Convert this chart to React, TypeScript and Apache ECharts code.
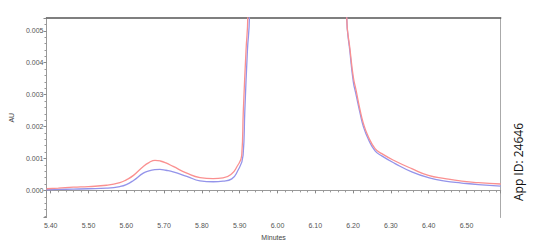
import React, { useEffect, useRef } from "react";
import * as echarts from "echarts";

// Retention time (minutes) and absorbance (AU) for each trace
const redTimes = [5.389, 5.42, 5.46, 5.5, 5.548, 5.583, 5.6, 5.619, 5.645, 5.66, 5.676, 5.69, 5.705, 5.724, 5.76, 5.795, 5.83, 5.856, 5.879, 5.8922, 5.9054, 5.9096, 5.9168, 5.9213, 5.94, 6.05, 6.17, 6.1832, 6.192, 6.2006, 6.2078, 6.2184, 6.2272, 6.2404, 6.2582, 6.2759, 6.3111, 6.3552, 6.3991, 6.4433, 6.4875, 6.5314, 6.5905];
const redValues = [0.00005, 0.00007, 0.0001, 0.00012, 0.00016, 0.00024, 0.00033, 0.00047, 0.00075, 0.00087, 0.00094, 0.00092, 0.00086, 0.00075, 0.00054, 0.0004, 0.00037, 0.00039, 0.00052, 0.00073, 0.0011, 0.0025, 0.0044, 0.0054, 0.03, 0.08, 0.02, 0.0054, 0.0044, 0.00355, 0.00314, 0.00252, 0.0021, 0.00168, 0.00131, 0.00115, 0.00092, 0.00068, 0.00047, 0.00037, 0.00029, 0.00024, 0.0002];

const blueTimes = [5.389, 5.42, 5.46, 5.5, 5.548, 5.583, 5.6, 5.619, 5.645, 5.66, 5.676, 5.689, 5.705, 5.724, 5.76, 5.795, 5.83, 5.856, 5.879, 5.8922, 5.909, 5.9136, 5.9205, 5.9256, 5.94, 6.05, 6.17, 6.1832, 6.192, 6.2006, 6.2078, 6.2184, 6.2272, 6.2404, 6.2582, 6.2759, 6.3111, 6.3552, 6.3991, 6.4433, 6.4875, 6.5314, 6.5905];
const blueValues = [0.00002, 0.00003, 0.00004, 0.00005, 0.00007, 0.00012, 0.00018, 0.00031, 0.00054, 0.00061, 0.00065, 0.00066, 0.00063, 0.00058, 0.00044, 0.0003, 0.00027, 0.00029, 0.00036, 0.00055, 0.0011, 0.0025, 0.0044, 0.0054, 0.03, 0.08, 0.02, 0.0054, 0.0043, 0.0034, 0.003, 0.00242, 0.002, 0.0016, 0.00124, 0.00108, 0.00084, 0.00058, 0.0004, 0.00029, 0.00023, 0.00018, 0.000135];

const xMin = 5.3889;
const xMax = 6.5905;
const yMin = -0.00085;
const yMax = 0.0054;

const xTitle = "Minutes";
const yTitle = "AU";
const sideNote = "App ID: 24646";

export default function App() {
  const ref = useRef<HTMLDivElement>(null);
  useEffect(() => {
    if (!ref.current) return;
    const chart = echarts.init(ref.current, null, { renderer: "svg" });
    const pair = (ts: number[], vs: number[]) => ts.map((t, i) => [t, vs[i]]);
    const labelStyle = { fontFamily: "Liberation Sans, Arial", fontSize: 7, color: "#555" };
    chart.setOption({
      animation: false,
      backgroundColor: "#fff",
      grid: { left: 46.5, top: 18, right: 53.3, bottom: 30.5, show: false },
      xAxis: [
        {
          type: "value",
          min: xMin,
          max: xMax,
          splitNumber: 12,
          name: xTitle,
          nameLocation: "middle",
          nameGap: 16,
          nameTextStyle: { ...labelStyle, color: "#444" },
          axisLine: { show: true, lineStyle: { color: "#999", width: 1 } },
          axisTick: { show: true, length: 3, lineStyle: { color: "#888" } },
          minorTick: { show: true, splitNumber: 5, length: 2, lineStyle: { color: "#999" } },
          axisLabel: {
            ...labelStyle,
            margin: 4,
            showMinLabel: false,
            showMaxLabel: false,
            formatter: (v: number) => v.toFixed(2),
          },
          splitLine: { show: false },
        },
        {
          type: "value",
          position: "top",
          min: xMin,
          max: xMax,
          axisLine: { show: true, onZero: false, lineStyle: { color: "#555", width: 1.5 } },
          axisTick: { show: false },
          axisLabel: { show: false },
          splitLine: { show: false },
        },
      ],
      yAxis: [
        {
          type: "value",
          min: yMin,
          max: yMax,
          splitNumber: 6,
          name: yTitle,
          nameLocation: "middle",
          nameGap: 24,
          nameTextStyle: { ...labelStyle, color: "#444" },
          axisLine: { show: true, lineStyle: { color: "#999", width: 1 } },
          axisTick: { show: true, length: 3, lineStyle: { color: "#888" } },
          minorTick: { show: true, splitNumber: 5, length: 2, lineStyle: { color: "#999" } },
          axisLabel: {
            ...labelStyle,
            margin: 3,
            showMinLabel: false,
            showMaxLabel: false,
            formatter: (v: number) => v.toFixed(3),
          },
          splitLine: { show: false },
        },
        {
          type: "value",
          position: "right",
          min: yMin,
          max: yMax,
          axisLine: { show: true, onZero: false, lineStyle: { color: "#aaa", width: 1 } },
          axisTick: { show: false },
          axisLabel: { show: false },
          splitLine: { show: false },
        },
      ],
      series: [
        {
          type: "line",
          data: pair(blueTimes, blueValues),
          showSymbol: false,
          smooth: 0.5,
          clip: true,
          lineStyle: { color: "#9494ea", width: 1.3 },
        },
        {
          type: "line",
          data: pair(redTimes, redValues),
          showSymbol: false,
          smooth: 0.5,
          clip: true,
          lineStyle: { color: "#fa9090", width: 1.3 },
        },
      ],
      graphic: [
        {
          type: "text",
          x: 518,
          y: 162,
          rotation: Math.PI / 2,
          style: {
            text: sideNote,
            fontFamily: "Open Sans, Noto Sans, sans-serif",
            fontSize: 12,
            fill: "#111",
            align: "center",
            verticalAlign: "middle",
          },
        },
      ],
    });
    return () => chart.dispose();
  }, []);
  return (
    <div
      ref={ref}
      style={{ position: "fixed", left: 0, top: 0, width: 554, height: 248, background: "#fff" }}
    />
  );
}
